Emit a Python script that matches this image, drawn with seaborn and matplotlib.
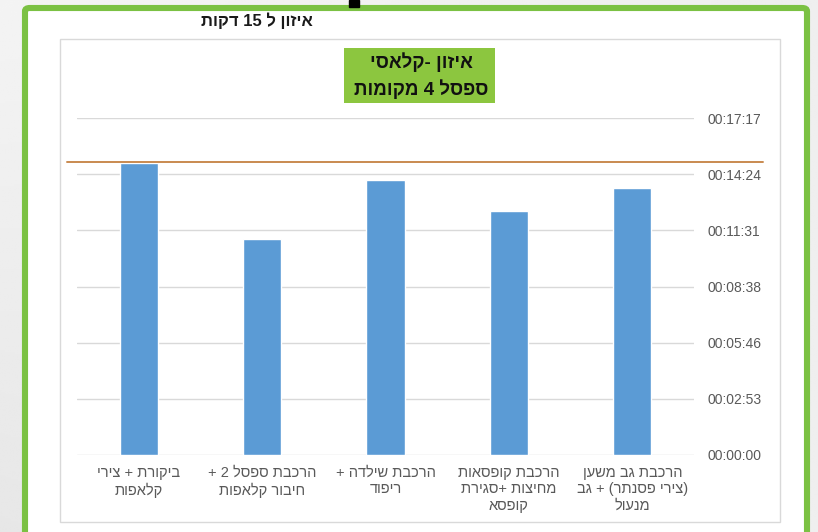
import matplotlib
matplotlib.use("Agg")
import matplotlib.pyplot as plt
from matplotlib.patches import Rectangle, FancyBboxPatch
from matplotlib.ticker import FuncFormatter, FixedLocator
import numpy as np
import pandas as pd
import seaborn as sns
import re

# ---- data (logical order, first stage is drawn on the right) ----
stage_lines = [
    ["הרכבת גב משען", "(צירי פסנתר) + גב", "מנעול"],
    ["הרכבת קופסאות", "מחיצות +סגירת", "קופסא"],
    ["הרכבת שילדה +", "ריפוד"],
    ["הרכבת ספסל 2 +", "חיבור קלאפות"],
    ["ביקורת + צירי", "קלאפות"],
]
stage_seconds = [822, 751, 846, 664, 897]   # duration of each stage
target_seconds = 900                        # takt line: 15 minutes
tick_step_seconds = 172.8                   # 0.002 day major unit
n_ticks = 7

title_text = "איזון ל 15 דקות"
box_lines = ["איזון -קלאסי", "ספסל 4 מקומות"]


def visual(s):
    """Lay out a right-to-left line for left-to-right rendering."""
    out = s[::-1]
    out = re.sub(r"[0-9]+", lambda m: m.group(0)[::-1], out)
    out = out.translate(str.maketrans("()", ")("))
    return out


labels = ["\n".join(visual(l) for l in lines) for lines in stage_lines]
df = pd.DataFrame({"stage": labels, "seconds": stage_seconds})

sns.set_theme(style="white")
plt.rcParams["font.family"] = ["Liberation Sans", "DejaVu Sans"]

W, H = 818, 532
fig = plt.figure(figsize=(W / 100, H / 100), dpi=100)

# background
bg = fig.add_axes([0, 0, 1, 1], zorder=-10)
grad = np.linspace(0, 1, 256)
gx, gy = np.meshgrid(grad, grad)
img = 0.955 - 0.05 * gy * (1 - gx) - 0.02 * gx
bg.imshow(img, cmap="gray", vmin=0, vmax=1, extent=[0, 1, 0, 1],
          aspect="auto", origin="upper")
bg.set_axis_off()

def fx(px):
    return px / W

def fy(py):
    return 1 - py / H

# green frame (open at the bottom)
frame = FancyBboxPatch((fx(25), fy(560)), fx(782), (560 - 8) / H,
                       boxstyle="round,pad=0,rounding_size=0.006",
                       transform=fig.transFigure, facecolor="white",
                       edgecolor="#7BC143", linewidth=4.4, zorder=-5)
fig.patches.append(frame)
fig.patches.append(Rectangle((fx(349), fy(7)), fx(10), 7 / H,
                             transform=fig.transFigure, color="black", zorder=-4))

# chart area border
fig.patches.append(Rectangle((fx(60), fy(522)), fx(720), (522 - 39) / H,
                             transform=fig.transFigure, facecolor="white",
                             edgecolor="#d9d9d9", linewidth=1.0, zorder=-3))

fig.text(fx(257), fy(21), visual(title_text), ha="center", va="center",
         fontsize=12, fontweight="bold", color="#1a1a1a")

ax = fig.add_axes([fx(77), fy(455), fx(694 - 77), (455 - 118) / H])
ax.set_facecolor("none")
sns.barplot(data=df, x="stage", y="seconds", color="#5B9BD5", width=0.31,
            saturation=1, ax=ax, zorder=3)
ax.invert_xaxis()

ticks = [k * tick_step_seconds for k in range(n_ticks)]
ax.yaxis.set_major_locator(FixedLocator(ticks))
ax.set_ylim(0, ticks[-1])

def hms(v, _pos):
    s = int(round(v))
    return f"{s // 3600:02d}:{(s % 3600) // 60:02d}:{s % 60:02d}"

ax.yaxis.set_major_formatter(FuncFormatter(hms))
ax.yaxis.tick_right()
ax.yaxis.grid(True, color="#d9d9d9", linewidth=1.0, zorder=0)
ax.set_axisbelow(True)
for sp in ax.spines.values():
    sp.set_visible(False)
ax.tick_params(axis="y", length=0, pad=10, labelsize=10, labelcolor="#595959")
ax.tick_params(axis="x", length=0, pad=8, labelsize=10.5, labelcolor="#595959")
for t in ax.get_xticklabels():
    t.set_multialignment("center")
    t.set_linespacing(1.2)
ax.set_xlabel("")
ax.set_ylabel("")

ax.axhline(target_seconds, xmin=-0.016, xmax=1.112, color="#C98A50",
           linewidth=1.4, clip_on=False, zorder=4)

# label box
fig.patches.append(Rectangle((fx(344), fy(103)), fx(151), 55 / H,
                             transform=fig.transFigure, facecolor="#8CC63F",
                             edgecolor="none", zorder=5))
fig.text(fx(421), fy(62), visual(box_lines[0]), ha="center", va="center",
         fontsize=13.5, fontweight="bold", color="#111111", zorder=6)
fig.text(fx(421), fy(89), visual(box_lines[1]), ha="center", va="center",
         fontsize=13.5, fontweight="bold", color="#111111", zorder=6)

fig.savefig("out.png", dpi=100)
